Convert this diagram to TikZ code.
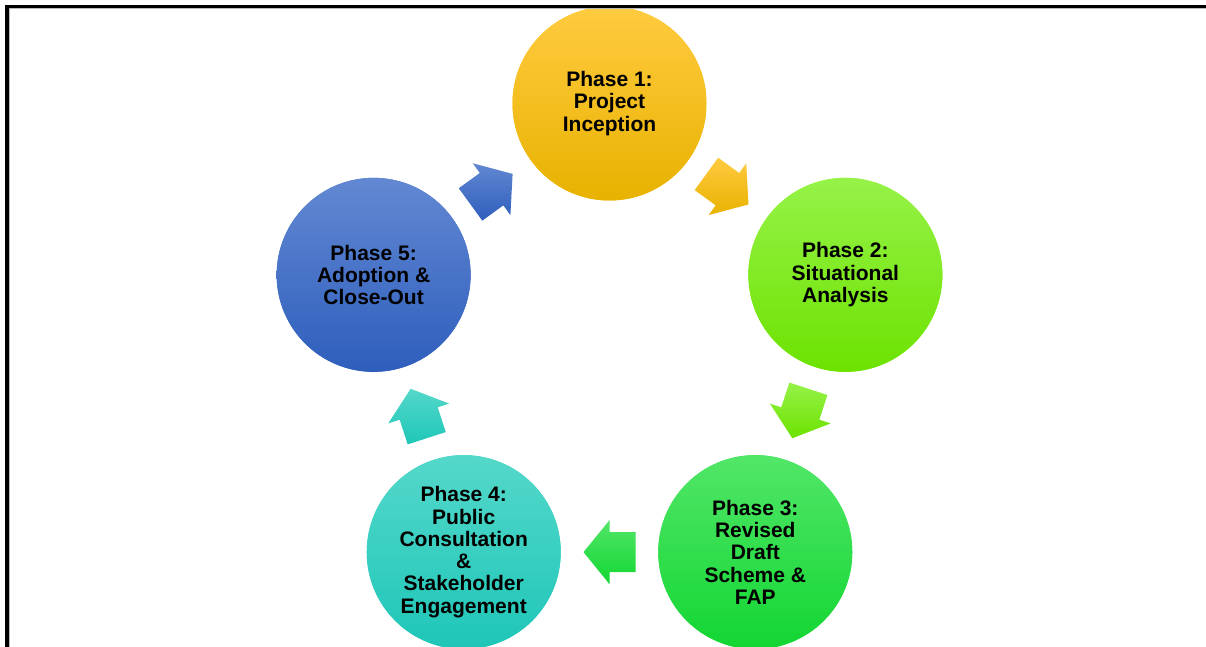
\documentclass[tikz,border=0pt]{standalone}
\usepackage{fontspec}
\setmainfont{Liberation Sans}
\usetikzlibrary{calc}
\definecolor{c1t}{RGB}{255,203,64}
\definecolor{c1m}{RGB}{255,192,0}
\definecolor{c1b}{RGB}{232,178,0}
\definecolor{c2t}{RGB}{150,242,72}
\definecolor{c2m}{RGB}{128,250,10}
\definecolor{c2b}{RGB}{108,226,0}
\definecolor{c3t}{RGB}{82,230,104}
\definecolor{c3m}{RGB}{30,228,66}
\definecolor{c3b}{RGB}{18,214,50}
\definecolor{c4t}{RGB}{84,216,202}
\definecolor{c4m}{RGB}{46,212,196}
\definecolor{c4b}{RGB}{30,198,184}
\definecolor{c5t}{RGB}{98,136,210}
\definecolor{c5m}{RGB}{66,110,200}
\definecolor{c5b}{RGB}{46,94,188}
\newcommand\phasearrow[4]{%
  \coordinate (m#1#2) at ($(#1.center)!0.5!(#2.center)$);
  \coordinate (b#1#2) at ($(m#1#2)!26pt!(#1.center)$);
  \path[top color=#3, bottom color=#4]
    ($(m#1#2)!26pt!(#2.center)$)
    -- ($(m#1#2)!32pt!90:(#2.center)$)
    -- ($(m#1#2)!20pt!90:(#2.center)$)
    -- ($(b#1#2)!20pt!90:(m#1#2)$)
    -- ($(b#1#2)!20pt!-90:(m#1#2)$)
    -- ($(m#1#2)!20pt!-90:(#2.center)$)
    -- ($(m#1#2)!32pt!-90:(#2.center)$)
    -- cycle;
}
\begin{document}
\begin{tikzpicture}[x=1pt,y=1pt,
  phase/.style={circle, minimum size=194pt, inner sep=0pt, align=center,
    font=\fontsize{21}{22.3}\selectfont\bfseries, text=black},
  tone/.style n args={3}{preaction={fill=#2}, top color=#1, middle color=#2, bottom color=#3}]
\useasboundingbox (0,0) rectangle (1206,647);
\clip (0,0) rectangle (1206,647);
\fill[white] (0,0) rectangle (1206,647);
\coordinate (O) at (609.5,295.5);
\node[phase, tone={c1t}{c1m}{c1b}] (p1) at ($(O)+(90:248)$) {Phase 1:\\Project\\Inception};
\node[phase, tone={c2t}{c2m}{c2b}] (p2) at ($(O)+(18:248)$) {Phase 2:\\Situational\\Analysis};
\node[phase, tone={c3t}{c3m}{c3b}] (p3) at ($(O)+(-54:248)$) {Phase 3:\\Revised\\Draft\\Scheme \&\\FAP};
\node[phase, tone={c4t}{c4m}{c4b}] (p4) at ($(O)+(-126:248)$) {Phase 4:\\Public\\Consultation\\\&\\Stakeholder\\Engagement};
\node[phase, tone={c5t}{c5m}{c5b}] (p5) at ($(O)+(162:248)$) {Phase 5:\\Adoption \&\\Close-Out};
\phasearrow{p1}{p2}{c1t}{c1b}
\phasearrow{p2}{p3}{c2t}{c2b}
\phasearrow{p3}{p4}{c3t}{c3b}
\phasearrow{p4}{p5}{c4t}{c4b}
\phasearrow{p5}{p1}{c5t}{c5b}
\draw[gray!55, line width=0.9pt] (9.7,0) -- (9.7,638.2) -- (1206,638.2);
\draw[black, line width=3.6pt] (7,0) -- (7,640.5) -- (1206,640.5);
\end{tikzpicture}
\end{document}
